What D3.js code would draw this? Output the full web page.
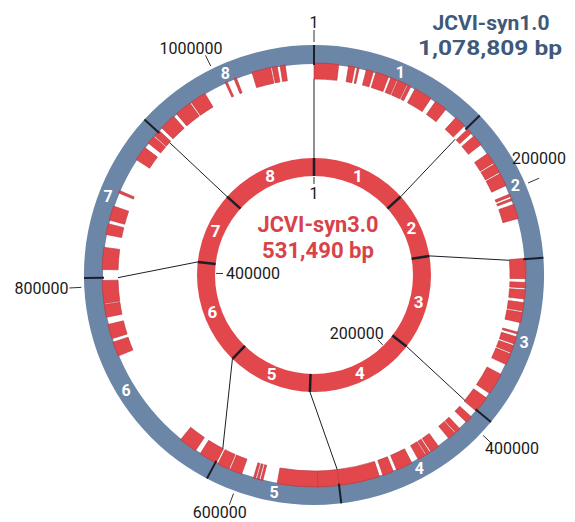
<!DOCTYPE html>
<html>
<head>
<meta charset="utf-8">
<script src="https://cdn.jsdelivr.net/npm/d3@7"></script>
<style>
  html, body { margin: 0; padding: 0; background: #ffffff; }
  svg { display: block; }
  text { font-family: Roboto, "Liberation Sans", sans-serif; }
</style>
</head>
<body>
<div id="chart"></div>
<script>
// ---------------- data ----------------
const syn1Name = "JCVI-syn1.0";
const syn1SizeLabel = "1,078,809 bp";
const syn1Length = 1078809;
const syn3Name = "JCVI-syn3.0";
const syn3SizeLabel = "531,490 bp";
const syn3Length = 531490;

const segmentLabels = ["1", "2", "3", "4", "5", "6", "7", "8"];
// start positions (bp) of the 8 segments on each genome
const syn1SegmentStarts = [1, 138200, 256800, 388700, 519000, 622500, 806800, 936500];
const syn3SegmentStarts = [1, 70700, 119000, 188500, 268700, 331000, 408100, 460700];

const syn1Ticks = [1, 200000, 400000, 600000, 800000, 1000000];
const syn3Ticks = [1, 200000, 400000];

// regions of JCVI-syn1.0 retained in JCVI-syn3.0 (bp)
const retainedStarts = [0, 28200, 35400, 42900, 50900, 63800, 69800, 78800, 85400, 104900,
  125900, 139300, 146800, 164800, 175000, 184000, 202300, 206200, 211300, 256200,
  275700, 281700, 292200, 300300, 316700, 320600, 328100, 335300, 353600, 376100,
  395600, 409000, 414500, 431500, 440200, 444400, 457000, 473500, 485500, 519000,
  536400, 581300, 584400, 587400, 599300, 610400, 621800, 641300, 741700, 756600,
  774600, 786000, 813600, 842100, 854100, 877400, 908000, 924500, 932300, 941000,
  957500, 972700, 1004500, 1012300, 1027800, 1044600, 1051200];
const retainedEnds = [20100, 33300, 36900, 48800, 61700, 68900, 77900, 81500, 100400, 115400,
  135700, 143800, 155800, 173800, 182800, 194800, 204400, 208000, 223300, 272700,
  280200, 289200, 299100, 308700, 318200, 326600, 334100, 344600, 371600, 389600,
  401600, 413600, 421000, 439000, 443500, 451000, 470500, 482500, 519000, 536400,
  569400, 583100, 586200, 589200, 609200, 620300, 636800, 656300, 753700, 768600,
  785100, 804600, 831600, 851000, 866000, 879500, 920000, 931400, 938000, 954500,
  971500, 985900, 1006300, 1014400, 1043400, 1048800, 1055400];

// ---------------- layout ----------------
const W = 575, H = 522;
const cx = 314, cy = 275;
const R = {
  outerOut: 230, outerIn: 211,
  blockOut: 212, blockIn: 196,
  innerOut: 117, innerIn: 99
};
const BLUE = "#6b86a7";
const RED = "#e2474c";
const BLOCK_STROKE = "#b3353a";
const DARK = "#1e1e28";

const svg = d3.select("#chart").append("svg")
  .attr("width", W).attr("height", H);

const g = svg.append("g").attr("transform", `translate(${cx},${cy})`);

const aOuter = d3.scaleLinear().domain([0, syn1Length]).range([0, 2 * Math.PI]);
const aInner = d3.scaleLinear().domain([0, syn3Length]).range([0, 2 * Math.PI]);
const polar = (r, a) => [r * Math.sin(a), -r * Math.cos(a)];

// outer ring (syn1.0)
g.append("path")
  .attr("d", d3.arc()({innerRadius: R.outerIn, outerRadius: R.outerOut, startAngle: 0, endAngle: 2 * Math.PI}))
  .attr("fill", BLUE);

// retained blocks
const blocks = retainedStarts.map((s, i) => ({s, e: retainedEnds[i]}));
const blockArc = d3.arc()
  .innerRadius(R.blockIn).outerRadius(R.blockOut)
  .startAngle(d => aOuter(d.s)).endAngle(d => aOuter(d.e));
g.append("g").selectAll("path").data(blocks).join("path")
  .attr("d", blockArc)
  .attr("fill", RED)
  .attr("stroke", BLOCK_STROKE)
  .attr("stroke-width", 0.6);

// inner ring (syn3.0)
g.append("path")
  .attr("d", d3.arc()({innerRadius: R.innerIn, outerRadius: R.innerOut, startAngle: 0, endAngle: 2 * Math.PI}))
  .attr("fill", RED);

// connector lines between segment boundaries
const bounds = syn1SegmentStarts.map((s, i) => ({o: aOuter(s), n: aInner(syn3SegmentStarts[i])}));
g.append("g").selectAll("line").data(bounds).join("line")
  .attr("x1", d => polar(R.innerOut, d.n)[0]).attr("y1", d => polar(R.innerOut, d.n)[1])
  .attr("x2", d => polar(R.blockIn, d.o)[0]).attr("y2", d => polar(R.blockIn, d.o)[1])
  .attr("stroke", DARK).attr("stroke-width", 1);

// boundary marks on rings
g.append("g").selectAll("line").data(bounds).join("line")
  .attr("x1", d => polar(R.outerIn - 1, d.o)[0]).attr("y1", d => polar(R.outerIn - 1, d.o)[1])
  .attr("x2", d => polar(R.outerOut, d.o)[0]).attr("y2", d => polar(R.outerOut, d.o)[1])
  .attr("stroke", DARK).attr("stroke-width", 2);
g.append("g").selectAll("line").data(bounds).join("line")
  .attr("x1", d => polar(R.innerIn, d.n)[0]).attr("y1", d => polar(R.innerIn, d.n)[1])
  .attr("x2", d => polar(R.innerOut, d.n)[0]).attr("y2", d => polar(R.innerOut, d.n)[1])
  .attr("stroke", DARK).attr("stroke-width", 2.5);

// segment numbers
const outerMid = segmentLabels.map((t, i) => {
  const s = syn1SegmentStarts[i], e = i < 7 ? syn1SegmentStarts[i + 1] : syn1Length;
  return {t, a: aOuter((s + e) / 2)};
});
const innerMid = segmentLabels.map((t, i) => {
  const s = syn3SegmentStarts[i], e = i < 7 ? syn3SegmentStarts[i + 1] : syn3Length;
  return {t, a: aInner((s + e) / 2)};
});
g.append("g").selectAll("text").data(outerMid).join("text")
  .attr("x", d => polar((R.outerIn + R.outerOut) / 2, d.a)[0])
  .attr("y", d => polar((R.outerIn + R.outerOut) / 2, d.a)[1])
  .attr("dy", "0.36em").attr("text-anchor", "middle")
  .attr("fill", "#ffffff").attr("font-size", 16).attr("font-weight", 700)
  .text(d => d.t);
g.append("g").selectAll("text").data(innerMid).join("text")
  .attr("x", d => polar((R.innerIn + R.innerOut) / 2, d.a)[0])
  .attr("y", d => polar((R.innerIn + R.innerOut) / 2, d.a)[1])
  .attr("dy", "0.36em").attr("text-anchor", "middle")
  .attr("fill", "#ffffff").attr("font-size", 17).attr("font-weight", 700)
  .text(d => d.t);

// outer ticks
const oT = g.append("g");
syn1Ticks.forEach(v => {
  const a = aOuter(v);
  const p1 = polar(R.outerOut + 3, a), p2 = polar(R.outerOut + 15, a);
  oT.append("line").attr("x1", p1[0]).attr("y1", p1[1]).attr("x2", p2[0]).attr("y2", p2[1])
    .attr("stroke", "#333").attr("stroke-width", 1);
  const t = oT.append("text").attr("font-size", 16).attr("fill", "#1a1a1a")
    .attr("text-anchor", "middle").attr("dy", "0.35em").text(v);
  const hw = t.node().getComputedTextLength() / 2, hh = 6.5;
  let c = polar(246, a);
  let x = c[0] + Math.sin(a) * hw, y = c[1] - Math.cos(a) * hh;
  if (x + hw + cx > W - 2) {
    x = Math.min(p2[0], W - 2 - hw - cx);
    y = p2[1] - 20;
  }
  t.attr("x", x).attr("y", y);
});

// inner ticks (inside ring)
const iT = g.append("g");
syn3Ticks.forEach(v => {
  const a = aInner(v);
  const p1 = polar(R.innerIn - 1, a), p2 = polar(R.innerIn - 8, a);
  iT.append("line").attr("x1", p1[0]).attr("y1", p1[1]).attr("x2", p2[0]).attr("y2", p2[1])
    .attr("stroke", "#333").attr("stroke-width", 1);
  const t = iT.append("text").attr("font-size", 16).attr("fill", "#1a1a1a")
    .attr("text-anchor", "middle").attr("dy", "0.35em").text(v);
  const hw = t.node().getComputedTextLength() / 2, hh = 6;
  const c = polar(88, a);
  t.attr("x", c[0] - Math.sin(a) * hw).attr("y", c[1] + Math.cos(a) * hh);
});

// titles
svg.append("text").attr("x", 491).attr("y", 30).attr("text-anchor", "middle")
  .attr("font-size", 21).attr("font-weight", 700).attr("fill", "#3e5979")
  .attr("textLength", 117).attr("lengthAdjust", "spacingAndGlyphs").text(syn1Name);
svg.append("text").attr("x", 490).attr("y", 55).attr("text-anchor", "middle")
  .attr("font-size", 21).attr("font-weight", 700).attr("fill", "#3e5979")
  .attr("textLength", 144).attr("lengthAdjust", "spacingAndGlyphs").text(syn1SizeLabel);

svg.append("text").attr("x", 318).attr("y", 232).attr("text-anchor", "middle")
  .attr("font-size", 22).attr("font-weight", 700).attr("fill", "#d8434a")
  .attr("textLength", 121).attr("lengthAdjust", "spacingAndGlyphs").text(syn3Name);
svg.append("text").attr("x", 318).attr("y", 258).attr("text-anchor", "middle")
  .attr("font-size", 22).attr("font-weight", 700).attr("fill", "#d8434a")
  .attr("textLength", 112).attr("lengthAdjust", "spacingAndGlyphs").text(syn3SizeLabel);
</script>
</body>
</html>
